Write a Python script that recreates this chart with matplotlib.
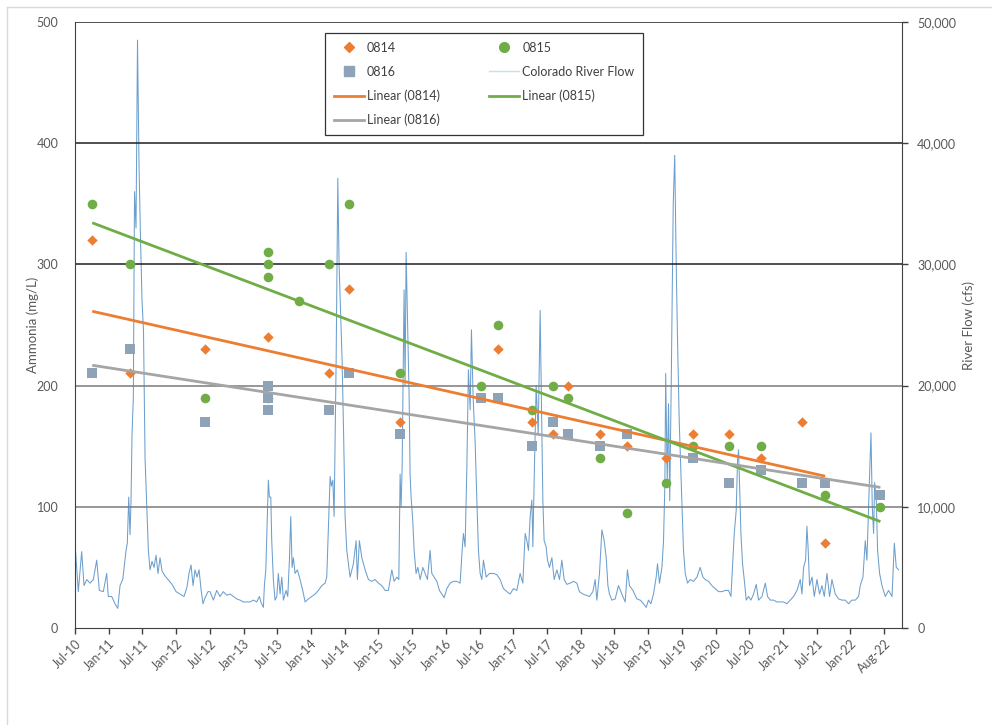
import numpy as np
import matplotlib
matplotlib.use('Agg')
import matplotlib.pyplot as plt
from matplotlib.lines import Line2D
from matplotlib.ticker import FuncFormatter

plt.rcParams['font.family'] = ['Lato', 'DejaVu Sans']

# ---------------- data (x in decimal years) ----------------
dates_0814 = [2010.82, 2011.38, 2012.49, 2013.43, 2013.43, 2013.43, 2014.33, 2014.63,
              2015.39, 2016.84, 2017.34, 2017.66, 2017.88, 2018.35, 2018.75, 2019.33,
              2019.73, 2020.27, 2020.74, 2021.35, 2021.69]
vals_0814 = [320, 210, 230, 240, 200, 190, 210, 280,
             170, 230, 170, 160, 200, 160, 150, 140,
             160, 160, 140, 170, 70]

dates_0815 = [2010.82, 2011.38, 2012.49, 2013.43, 2013.43, 2013.43, 2013.89, 2014.33,
              2014.63, 2015.39, 2016.59, 2016.84, 2017.34, 2017.66, 2017.88, 2018.35,
              2018.75, 2019.33, 2019.73, 2020.27, 2020.74, 2021.69, 2022.51]
vals_0815 = [350, 300, 190, 310, 300, 290, 270, 300,
             350, 210, 200, 250, 180, 200, 190, 140,
             95, 120, 150, 150, 150, 110, 100]

dates_0816 = [2010.82, 2011.38, 2012.49, 2013.43, 2013.43, 2013.43, 2014.33, 2014.63,
              2015.39, 2016.59, 2016.84, 2017.34, 2017.66, 2017.88, 2018.35, 2018.75,
              2019.73, 2020.27, 2020.74, 2021.35, 2021.69, 2022.51]
vals_0816 = [210, 230, 170, 200, 190, 180, 180, 210,
             160, 190, 190, 150, 170, 160, 150, 160,
             140, 120, 130, 120, 120, 110]

# Colorado River flow (decimal year, cfs)
flow_points = [
    (2010.564, 7000), (2010.613, 3000), (2010.663, 6300), (2010.698, 3500), (2010.738, 4000),
    (2010.787, 3700), (2010.836, 4000), (2010.886, 5600), (2010.925, 3100), (2010.984, 3000),
    (2011.034, 4500), (2011.058, 2600), (2011.109, 2600), (2011.157, 2000), (2011.198, 1620),
    (2011.232, 3500), (2011.272, 4000), (2011.291, 4900), (2011.321, 6400), (2011.340, 7000),
    (2011.361, 10800), (2011.380, 7700), (2011.395, 10500), (2011.410, 16000), (2011.429, 19000),
    (2011.447, 36000), (2011.469, 33000), (2011.491, 48500), (2011.514, 38000), (2011.536, 32000),
    (2011.558, 27000), (2011.580, 24500), (2011.603, 14000), (2011.628, 10000), (2011.652, 6400),
    (2011.677, 4800), (2011.706, 5500), (2011.736, 5000), (2011.766, 6000), (2011.795, 4500),
    (2011.825, 5800), (2011.855, 4700), (2011.899, 4300), (2011.944, 4000), (2012.003, 3600),
    (2012.063, 3000), (2012.122, 2800), (2012.181, 2600), (2012.226, 3400), (2012.255, 4500),
    (2012.285, 5200), (2012.315, 3500), (2012.344, 4800), (2012.374, 4200), (2012.404, 4800),
    (2012.433, 3200), (2012.463, 2000), (2012.493, 2500), (2012.537, 3000), (2012.567, 3000),
    (2012.616, 2300), (2012.666, 3100), (2012.715, 2600), (2012.764, 3000), (2012.815, 2700),
    (2012.864, 2800), (2012.913, 2600), (2012.963, 2400), (2013.012, 2300), (2013.061, 2150),
    (2013.112, 2150), (2013.161, 2150), (2013.210, 2300), (2013.260, 2150), (2013.299, 2600),
    (2013.324, 2100), (2013.358, 1700), (2013.373, 3500), (2013.394, 4800), (2013.417, 9200),
    (2013.432, 12200), (2013.447, 10800), (2013.468, 10800), (2013.482, 7200), (2013.506, 4000),
    (2013.531, 2300), (2013.557, 2600), (2013.580, 4500), (2013.606, 2800), (2013.631, 4200),
    (2013.655, 2300), (2013.695, 3100), (2013.720, 2600), (2013.744, 5600), (2013.764, 9200),
    (2013.784, 5000), (2013.803, 5800), (2013.828, 4500), (2013.862, 4800), (2013.902, 4000),
    (2013.942, 3100), (2013.977, 2150), (2014.026, 2400), (2014.076, 2600), (2014.125, 2800),
    (2014.174, 3100), (2014.224, 3500), (2014.273, 3700), (2014.298, 4200), (2014.322, 8100),
    (2014.348, 12500), (2014.367, 11700), (2014.388, 12200), (2014.407, 9200), (2014.437, 22000),
    (2014.462, 37100), (2014.481, 30000), (2014.503, 26000), (2014.526, 22000), (2014.548, 16000),
    (2014.570, 9200), (2014.595, 6400), (2014.644, 4200), (2014.693, 5300), (2014.733, 7200),
    (2014.752, 4000), (2014.782, 7200), (2014.818, 5800), (2014.867, 4800), (2014.916, 4000),
    (2014.966, 3850), (2015.015, 4000), (2015.064, 3700), (2015.114, 3500), (2015.164, 3100),
    (2015.212, 3100), (2015.263, 4800), (2015.297, 3850), (2015.337, 4200), (2015.367, 4000),
    (2015.386, 12700), (2015.401, 10000), (2015.416, 13300), (2015.445, 27900), (2015.460, 20000),
    (2015.475, 31000), (2015.497, 25000), (2015.520, 19000), (2015.534, 12700), (2015.549, 10800),
    (2015.574, 8800), (2015.594, 6400), (2015.623, 4500), (2015.649, 5000), (2015.683, 4000),
    (2015.723, 5000), (2015.757, 4500), (2015.791, 4000), (2015.831, 6400), (2015.856, 4500),
    (2015.890, 4200), (2015.931, 3850), (2015.969, 3100), (2016.005, 2800), (2016.039, 2500),
    (2016.079, 3250), (2016.128, 3700), (2016.177, 3850), (2016.227, 3850), (2016.276, 3700),
    (2016.306, 6400), (2016.325, 7800), (2016.350, 6700), (2016.376, 13300), (2016.399, 21300),
    (2016.425, 18000), (2016.444, 24600), (2016.469, 19000), (2016.499, 15300), (2016.524, 10560),
    (2016.548, 6400), (2016.573, 4500), (2016.598, 4000), (2016.622, 5600), (2016.662, 4200),
    (2016.711, 4500), (2016.770, 4500), (2016.820, 4400), (2016.870, 4000), (2016.919, 3250),
    (2016.969, 3000), (2017.018, 2800), (2017.067, 3250), (2017.117, 3100), (2017.166, 4500),
    (2017.206, 3700), (2017.241, 7800), (2017.266, 7200), (2017.290, 6400), (2017.315, 9200),
    (2017.340, 10560), (2017.355, 6700), (2017.374, 12100), (2017.404, 20000), (2017.434, 16000),
    (2017.463, 26200), (2017.488, 16100), (2017.503, 10560), (2017.522, 7200), (2017.552, 6700),
    (2017.572, 5600), (2017.601, 5000), (2017.637, 5800), (2017.671, 4000), (2017.711, 4800),
    (2017.750, 4000), (2017.785, 5600), (2017.819, 4000), (2017.859, 3600), (2017.908, 3700),
    (2017.957, 3850), (2018.007, 3700), (2018.046, 3000), (2018.097, 2800), (2018.146, 2700),
    (2018.195, 2600), (2018.245, 3000), (2018.279, 4000), (2018.304, 2300), (2018.343, 4500),
    (2018.379, 8100), (2018.413, 7200), (2018.443, 5800), (2018.468, 3500), (2018.491, 2800),
    (2018.527, 2300), (2018.576, 2400), (2018.625, 3500), (2018.675, 2800), (2018.724, 2150),
    (2018.758, 4800), (2018.788, 3500), (2018.839, 3100), (2018.898, 2400), (2018.947, 2300),
    (2018.996, 2000), (2019.036, 1700), (2019.070, 2300), (2019.106, 2000), (2019.144, 2800),
    (2019.184, 4200), (2019.204, 5300), (2019.233, 3700), (2019.269, 5000), (2019.293, 7200),
    (2019.313, 11900), (2019.325, 21000), (2019.348, 12000), (2019.367, 18500), (2019.385, 10500),
    (2019.407, 20000), (2019.437, 35000), (2019.459, 39000), (2019.481, 30000), (2019.500, 24000),
    (2019.526, 17000), (2019.565, 10560), (2019.589, 6400), (2019.615, 4500), (2019.649, 3700),
    (2019.689, 4000), (2019.738, 3850), (2019.788, 4200), (2019.837, 5000), (2019.877, 4200),
    (2019.911, 4000), (2019.960, 3850), (2020.010, 3500), (2020.060, 3250), (2020.109, 3000),
    (2020.159, 3000), (2020.208, 3100), (2020.257, 3100), (2020.293, 2600), (2020.322, 5600),
    (2020.342, 7800), (2020.371, 9700), (2020.391, 13900), (2020.406, 14700), (2020.421, 11700),
    (2020.441, 7800), (2020.465, 5300), (2020.490, 4000), (2020.520, 2300), (2020.554, 2600),
    (2020.589, 2300), (2020.628, 2800), (2020.668, 3600), (2020.702, 2300), (2020.753, 2600),
    (2020.802, 3700), (2020.836, 2600), (2020.876, 2300), (2020.925, 2300), (2020.975, 2150),
    (2021.024, 2150), (2021.073, 2150), (2021.123, 2000), (2021.172, 2300), (2021.221, 2600),
    (2021.272, 3100), (2021.321, 4000), (2021.346, 2800), (2021.370, 5000), (2021.400, 5600),
    (2021.420, 8400), (2021.439, 6400), (2021.459, 3500), (2021.495, 4200), (2021.529, 2600),
    (2021.569, 4000), (2021.607, 2800), (2021.643, 3500), (2021.677, 2600), (2021.717, 4500),
    (2021.756, 2600), (2021.791, 4000), (2021.840, 2800), (2021.889, 2400), (2021.939, 2300),
    (2021.988, 2300), (2022.037, 2000), (2022.088, 2300), (2022.137, 2300), (2022.186, 2600),
    (2022.211, 3500), (2022.251, 4200), (2022.285, 7200), (2022.310, 5600), (2022.340, 11000),
    (2022.370, 16100), (2022.389, 10000), (2022.409, 7800), (2022.424, 12000), (2022.449, 10560),
    (2022.468, 6400), (2022.498, 4500), (2022.533, 3500), (2022.582, 2600), (2022.631, 3100),
    (2022.682, 2600), (2022.716, 7000), (2022.745, 5000), (2022.780, 4800),
]
flow_year = [p[0] for p in flow_points]
flow_cfs = [p[1] for p in flow_points]

x_tick_labels = ['Jul-10', 'Jan-11', 'Jul-11', 'Jan-12', 'Jul-12', 'Jan-13', 'Jul-13',
                 'Jan-14', 'Jul-14', 'Jan-15', 'Jul-15', 'Jan-16', 'Jul-16', 'Jan-17',
                 'Jul-17', 'Jan-18', 'Jul-18', 'Jan-19', 'Jul-19', 'Jan-20', 'Jul-20',
                 'Jan-21', 'Jul-21', 'Jan-22', 'Aug-22']
x_start = 2010.564
x_end = 2022.83

# ---------------- styling ----------------
c14 = '#ED7D31'
c15 = '#70AD47'
c16 = '#8EA2B8'
c16_line = '#A5A5A5'
c_flow = '#6C9FCD'
txt = '#595959'

fig = plt.figure(figsize=(9.92, 7.25), dpi=100)
fig.patch.set_facecolor('white')
# chart-area border (top and left)
fig.add_artist(Line2D([7/992, 1], [1-7/725, 1-7/725], transform=fig.transFigure, color='#D9D9D9', lw=1))
fig.add_artist(Line2D([7/992, 7/992], [0, 1-7/725], transform=fig.transFigure, color='#D9D9D9', lw=1))

ax = fig.add_axes([75/992, 1-628/725, (902-75)/992, (628-22)/725])
ax2 = ax.twinx()
ax.set_zorder(ax2.get_zorder() + 1)
ax.patch.set_visible(False)

# river flow on secondary axis
ax2.plot(flow_year, flow_cfs, color=c_flow, lw=0.75, zorder=2)
ax2.set_ylim(0, 50000)
ax2.set_yticks(np.arange(0, 50001, 10000))
ax2.yaxis.set_major_formatter(FuncFormatter(lambda v, p: f'{int(v):,}'))

# scatter + trendlines on primary axis
ax.scatter(dates_0814, vals_0814, marker='D', s=28, color=c14, zorder=4, linewidths=0)
ax.scatter(dates_0815, vals_0815, marker='o', s=48, color=c15, zorder=5, linewidths=0)
ax.scatter(dates_0816, vals_0816, marker='s', s=42, color=c16, zorder=6, linewidths=0)

def trend(xs, ys):
    k, b = np.polyfit(xs, ys, 1)
    xx = np.array([min(xs), max(xs)])
    return xx, k * xx + b

tx, ty = trend(dates_0814, vals_0814)
ax.plot(tx, ty, color=c14, lw=2, zorder=7, solid_capstyle='butt')
tx, ty = trend(dates_0815, vals_0815)
ax.plot(tx, ty, color=c15, lw=2, zorder=7, solid_capstyle='butt')
tx, ty = trend(dates_0816, vals_0816)
ax.plot(tx, ty, color=c16_line, lw=2, zorder=7, solid_capstyle='butt')

ax.set_ylim(0, 500)
ax.set_yticks(np.arange(0, 501, 100))
ax.set_xlim(x_start, x_end)
ax.set_xticks([x_start + 0.5 * i for i in range(len(x_tick_labels))])
ax.set_xticklabels(x_tick_labels, rotation=45, ha='right', rotation_mode='anchor')

# gridlines
for v in range(100, 501, 100):
    col = '#1f1f1f' if v >= 300 else '#7a7a7a'
    ax.axhline(v, color=col, lw=1.1, zorder=1)

for a in (ax, ax2):
    a.spines['top'].set_visible(False)
ax.spines['left'].set_color('#404040')
ax.spines['bottom'].set_color('#404040')
ax2.spines['right'].set_color('#404040')
ax2.spines['left'].set_visible(False)
ax2.spines['bottom'].set_visible(False)
ax.spines['right'].set_visible(False)

ax.tick_params(axis='x', direction='out', length=4, width=1, color='#404040',
               labelcolor=txt, labelsize=9, pad=3)
ax.tick_params(axis='y', direction='out', length=0, labelcolor=txt, labelsize=9, pad=12)
ax2.tick_params(axis='y', direction='out', length=4, width=1, color='#404040',
                labelcolor=txt, labelsize=9, pad=7)

ax.set_ylabel('Ammonia (mg/L)', color=txt, fontsize=9.5)
ax2.set_ylabel('River Flow (cfs)', color=txt, fontsize=9.5)
ax.yaxis.set_label_coords(-0.044, 0.5)
ax2.yaxis.set_label_coords(1.073, 0.5)

# legend
handles = [
    Line2D([], [], ls='none', marker='D', markersize=5, color=c14),
    Line2D([], [], ls='none', marker='s', markersize=6.5, color=c16),
    Line2D([], [], color=c14, lw=2),
    Line2D([], [], color=c16_line, lw=2),
    Line2D([], [], ls='none', marker='o', markersize=7, color=c15),
    Line2D([], [], color='#C5E2EF', lw=1),
    Line2D([], [], color=c15, lw=2),
]
labels = ['0814', '0816', 'Linear (0814)', 'Linear (0816)',
          '0815', 'Colorado River Flow', 'Linear (0815)']
leg = ax.legend(handles, labels, ncol=2, loc='upper left',
                bbox_to_anchor=(0.302, 0.982, 0.385, 0.0), mode='expand',
                frameon=True, fancybox=False, edgecolor='#000000', fontsize=9,
                handlelength=2.4, handletextpad=0.25, labelspacing=0.95,
                borderpad=0.7, columnspacing=1.5, borderaxespad=0)
leg.get_frame().set_linewidth(0.9)
for t in leg.get_texts():
    t.set_color('#404040')
leg.set_zorder(20)

fig.savefig('out.png', dpi=100, facecolor='white')
